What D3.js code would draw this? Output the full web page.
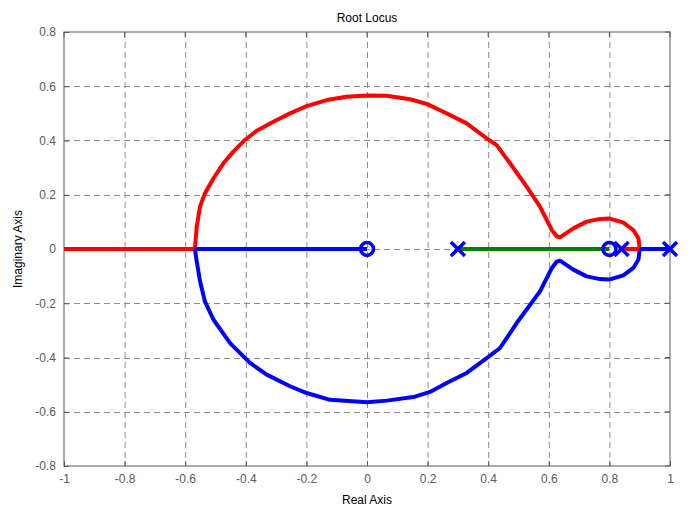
<!DOCTYPE html>
<html>
<head>
<meta charset="utf-8">
<script src="https://cdn.jsdelivr.net/npm/d3@7"></script>
<style>
body{margin:0;background:#fff;}
svg{display:block;}
</style>
</head>
<body>
<svg id="chart" width="693" height="515"></svg>
<script>
// ---- data ----
const xTicks = [-1,-0.8,-0.6,-0.4,-0.2,0,0.2,0.4,0.6,0.8,1];
const yTicks = [-0.8,-0.6,-0.4,-0.2,0,0.2,0.4,0.6,0.8];
const poles = [0.3, 0.84, 1.0];
const zeros = [0, 0.8];

// upper complex branch (red)
const upperBranch = [
 [0.900,0.000],[0.896,0.039],[0.879,0.070],[0.846,0.097],[0.802,0.112],[0.769,0.111],
 [0.725,0.101],[0.681,0.076],[0.637,0.043],[0.626,0.047],[0.610,0.070],[0.571,0.156],
 [0.527,0.230],[0.472,0.316],[0.428,0.383],[0.395,0.408],[0.329,0.463],[0.252,0.506],
 [0.197,0.535],[0.142,0.552],[0.065,0.565],[0.000,0.566],[-0.067,0.561],[-0.133,0.549],
 [-0.199,0.527],[-0.254,0.500],[-0.309,0.469],[-0.364,0.436],[-0.403,0.402],[-0.441,0.359],
 [-0.474,0.316],[-0.507,0.260],[-0.535,0.205],[-0.551,0.156],[-0.562,0.082],[-0.568,0.000]
];
// lower complex branch (blue)
const lowerBranch = [
 [0.900,0.000],[0.896,-0.039],[0.879,-0.070],[0.846,-0.097],[0.802,-0.112],[0.769,-0.111],
 [0.725,-0.101],[0.681,-0.076],[0.637,-0.043],[0.626,-0.047],[0.610,-0.070],[0.571,-0.156],
 [0.494,-0.273],[0.439,-0.365],[0.395,-0.402],[0.329,-0.457],[0.263,-0.494],[0.208,-0.527],
 [0.153,-0.546],[0.065,-0.559],[0.000,-0.565],[-0.012,-0.564],[-0.122,-0.556],[-0.199,-0.531],
 [-0.254,-0.506],[-0.331,-0.463],[-0.386,-0.420],[-0.452,-0.347],[-0.507,-0.260],[-0.535,-0.193],
 [-0.551,-0.119],[-0.562,-0.045],[-0.568,0.000]
];
// real-axis segments
const redAxisLeft = [[-1.0,0],[-0.568,0]];
const blueAxisMid = [[-0.568,0],[0.0,0]];
const greenAxis = [[0.3,0],[0.8,0]];
const redAxisRight = [[0.84,0],[0.9,0]];
const blueAxisRight = [[0.9,0],[1.0,0]];

// ---- layout ----
const svg = d3.select("#chart");
const L = 64, R = 670, T = 32, B = 466;
const x = d3.scaleLinear().domain([-1,1]).range([L,R]);
const y = d3.scaleLinear().domain([-0.8,0.8]).range([B,T]);
const font = "'Liberation Sans', Arial, Helvetica, sans-serif";
const axisColor = "#5a5a5a";

// grid
const grid = svg.append("g");
grid.selectAll("line.gx").data(xTicks.slice(1,-1)).enter().append("line")
  .attr("x1",d=>x(d)+0.5).attr("x2",d=>x(d)+0.5).attr("y1",T).attr("y2",B)
  .attr("stroke","#8c8c8c").attr("stroke-width",1).attr("stroke-dasharray","6,4");
grid.selectAll("line.gy").data(yTicks.slice(1,-1)).enter().append("line")
  .attr("y1",d=>Math.round(y(d))+0.5).attr("y2",d=>Math.round(y(d))+0.5).attr("x1",L).attr("x2",R)
  .attr("stroke","#8c8c8c").attr("stroke-width",1).attr("stroke-dasharray","6,4");

// axes
const xAxis = d3.axisBottom(x).tickValues(xTicks).tickSize(-5).tickPadding(8).tickFormat(d=>String(+d.toFixed(1)));
const yAxis = d3.axisLeft(y).tickValues(yTicks).tickSize(-5).tickPadding(8).tickFormat(d=>String(+d.toFixed(1)));
const gx = svg.append("g").attr("transform",`translate(0,${B})`).call(xAxis);
const gy = svg.append("g").attr("transform",`translate(${L},0)`).call(yAxis);
[gx,gy].forEach(g=>{
  g.select(".domain").remove();
  g.selectAll(".tick line").attr("stroke",axisColor);
  g.selectAll(".tick text").attr("fill",axisColor).style("font-family",font).style("font-size","12px");
});
gx.selectAll(".tick text").attr("dy","0.71em");
// top/right ticks
svg.append("g").selectAll("line").data(xTicks).enter().append("line")
  .attr("x1",d=>x(d)).attr("x2",d=>x(d)).attr("y1",T).attr("y2",T+5).attr("stroke",axisColor);
svg.append("g").selectAll("line").data(yTicks).enter().append("line")
  .attr("x1",R).attr("x2",R-5).attr("y1",d=>y(d)).attr("y2",d=>y(d)).attr("stroke",axisColor);
// box
svg.append("rect").attr("x",L).attr("y",T).attr("width",R-L).attr("height",B-T)
  .attr("fill","none").attr("stroke",axisColor).attr("stroke-width",1);

// titles
svg.append("text").attr("x",(L+R)/2).attr("y",22).attr("text-anchor","middle")
  .style("font-family",font).style("font-size","12px").attr("fill","#000").text("Root Locus");
svg.append("text").attr("x",(L+R)/2).attr("y",504).attr("text-anchor","middle")
  .style("font-family",font).style("font-size","12px").attr("fill","#000").text("Real Axis");
svg.append("text").attr("transform",`translate(22,${(T+B)/2}) rotate(-90)`).attr("text-anchor","middle")
  .style("font-family",font).style("font-size","12px").attr("fill","#000").text("Imaginary Axis");

// curves
const plot = svg.append("g");
const line = d3.line().x(d=>x(d[0])).y(d=>y(d[1]));
function draw(data,color){
  plot.append("path").attr("d",line(data)).attr("fill","none").attr("stroke",color)
    .attr("stroke-width",4).attr("stroke-linejoin","round");
}
draw(redAxisLeft,"#ff0000");
draw(upperBranch,"#ff0000");
draw(blueAxisMid,"#0000ff");
draw(lowerBranch,"#0000ff");
draw(greenAxis,"#008000");
draw(redAxisRight,"#ff0000");
draw(blueAxisRight,"#0000ff");

// markers
const m = 7;
poles.forEach(p=>{
  const cx = x(p), cy = y(0);
  plot.append("path").attr("d",`M${cx-m},${cy-m}L${cx+m},${cy+m}M${cx-m},${cy+m}L${cx+m},${cy-m}`)
    .attr("stroke","#0000ff").attr("stroke-width",3.5).attr("fill","none");
});
zeros.forEach(z=>{
  plot.append("circle").attr("cx",x(z)).attr("cy",y(0)).attr("r",6.5)
    .attr("stroke","#0000ff").attr("stroke-width",3.5).attr("fill","none");
});
</script>
</body>
</html>
